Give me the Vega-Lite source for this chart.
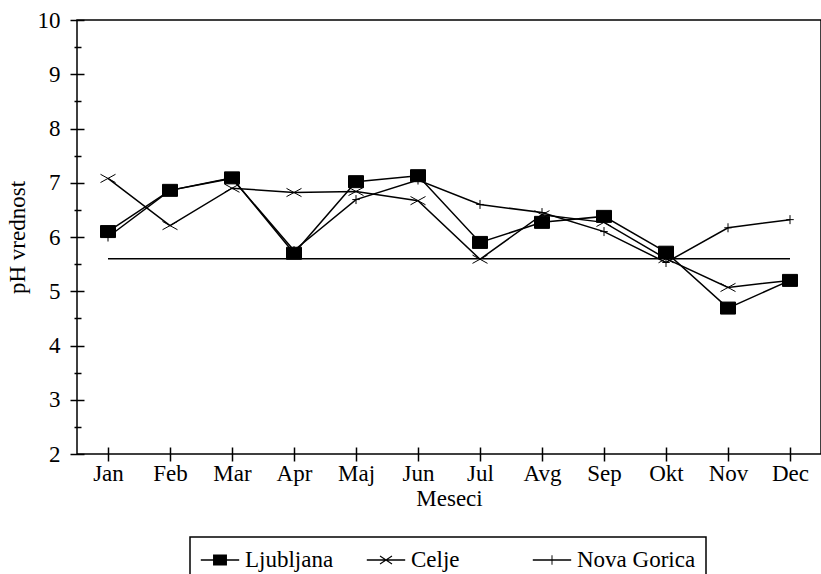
{
  "$schema": "https://vega.github.io/schema/vega-lite/v6.json",
  "width": 744,
  "height": 434,
  "autosize": {"type": "none"},
  "padding": {"left": 77, "top": 20, "right": 0, "bottom": 120},
  "background": "white",
  "config": {
    "view": {"stroke": "black", "strokeWidth": 1.5},
    "font": "Liberation Serif",
    "axis": {
      "labelFont": "Liberation Serif",
      "titleFont": "Liberation Serif",
      "labelFontSize": 23,
      "titleFontSize": 23,
      "labelColor": "black",
      "titleColor": "black",
      "titleFontWeight": "normal",
      "tickColor": "black",
      "tickWidth": 1.5,
      "grid": false,
      "domain": false
    },
    "legend": {"strokeWidth": 1.5}
  },
  "datasets": {
    "ph": [
      {"postaja": "Ljubljana", "mesec": "Jan", "ph": 6.1},
      {"postaja": "Ljubljana", "mesec": "Feb", "ph": 6.86},
      {"postaja": "Ljubljana", "mesec": "Mar", "ph": 7.09},
      {"postaja": "Ljubljana", "mesec": "Apr", "ph": 5.7},
      {"postaja": "Ljubljana", "mesec": "Maj", "ph": 7.02},
      {"postaja": "Ljubljana", "mesec": "Jun", "ph": 7.13},
      {"postaja": "Ljubljana", "mesec": "Jul", "ph": 5.9},
      {"postaja": "Ljubljana", "mesec": "Avg", "ph": 6.27},
      {"postaja": "Ljubljana", "mesec": "Sep", "ph": 6.38},
      {"postaja": "Ljubljana", "mesec": "Okt", "ph": 5.72},
      {"postaja": "Ljubljana", "mesec": "Nov", "ph": 4.69},
      {"postaja": "Ljubljana", "mesec": "Dec", "ph": 5.2},
      {"postaja": "Celje", "mesec": "Jan", "ph": 7.08},
      {"postaja": "Celje", "mesec": "Feb", "ph": 6.21},
      {"postaja": "Celje", "mesec": "Mar", "ph": 6.9},
      {"postaja": "Celje", "mesec": "Apr", "ph": 6.82},
      {"postaja": "Celje", "mesec": "Maj", "ph": 6.84},
      {"postaja": "Celje", "mesec": "Jun", "ph": 6.67},
      {"postaja": "Celje", "mesec": "Jul", "ph": 5.59},
      {"postaja": "Celje", "mesec": "Avg", "ph": 6.41},
      {"postaja": "Celje", "mesec": "Sep", "ph": 6.27},
      {"postaja": "Celje", "mesec": "Okt", "ph": 5.6},
      {"postaja": "Celje", "mesec": "Nov", "ph": 5.07},
      {"postaja": "Celje", "mesec": "Dec", "ph": 5.2},
      {"postaja": "Nova Gorica", "mesec": "Jan", "ph": 6.0},
      {"postaja": "Nova Gorica", "mesec": "Feb", "ph": 6.86},
      {"postaja": "Nova Gorica", "mesec": "Mar", "ph": 7.08},
      {"postaja": "Nova Gorica", "mesec": "Apr", "ph": 5.75},
      {"postaja": "Nova Gorica", "mesec": "Maj", "ph": 6.69},
      {"postaja": "Nova Gorica", "mesec": "Jun", "ph": 7.05},
      {"postaja": "Nova Gorica", "mesec": "Jul", "ph": 6.6},
      {"postaja": "Nova Gorica", "mesec": "Avg", "ph": 6.45},
      {"postaja": "Nova Gorica", "mesec": "Sep", "ph": 6.1},
      {"postaja": "Nova Gorica", "mesec": "Okt", "ph": 5.53},
      {"postaja": "Nova Gorica", "mesec": "Nov", "ph": 6.17},
      {"postaja": "Nova Gorica", "mesec": "Dec", "ph": 6.32}
    ],
    "ref": [
      {"mesec": "Jan", "ph": 5.6},
      {"mesec": "Dec", "ph": 5.6}
    ],
    "none": []
  },
  "layer": [
    {
      "data": {"name": "ref"},
      "mark": {"type": "line", "color": "black", "strokeWidth": 1.5},
      "encoding": {
        "x": {
          "field": "mesec", "type": "ordinal",
          "scale": {"type": "point", "padding": 0.5, "domain": ["Jan","Feb","Mar","Apr","Maj","Jun","Jul","Avg","Sep","Okt","Nov","Dec"]},
          "axis": {"orient": "bottom", "offset": -7, "tickSize": 14, "labelPadding": 1, "labelAngle": 0, "title": "Meseci", "titlePadding": 2}
        },
        "y": {
          "field": "ph", "type": "quantitative",
          "scale": {"domain": [2, 10], "nice": false, "zero": false},
          "axis": {"orient": "left", "values": [2,3,4,5,6,7,8,9,10], "format": "d", "offset": -7, "tickSize": 14, "labelPadding": 10, "title": "pH vrednost", "titlePadding": 8}
        },
        "order": {"value": null}
      }
    },
    {
      "data": {"name": "ph"},
      "mark": {"type": "line", "color": "black", "strokeWidth": 1.5},
      "encoding": {
        "x": {
          "field": "mesec", "type": "ordinal",
          "scale": {"type": "point", "padding": 0.5, "domain": ["Jan","Feb","Mar","Apr","Maj","Jun","Jul","Avg","Sep","Okt","Nov","Dec"]}
        },
        "y": {
          "field": "ph", "type": "quantitative",
          "scale": {"domain": [2, 10], "nice": false, "zero": false},
          "axis": {"orient": "left", "values": [2.5,3.5,4.5,5.5,6.5,7.5,8.5,9.5], "offset": -4, "tickSize": 7, "labels": false, "title": null}
        },
        "detail": {"field": "postaja", "type": "nominal"},
        "order": {"value": null}
      }
    },
    {
      "data": {"name": "ph"},
      "mark": {"type": "point", "filled": true, "fill": "black", "stroke": "black", "strokeWidth": 1, "opacity": 1, "size": 225},
      "encoding": {
        "x": {
          "field": "mesec", "type": "ordinal",
          "scale": {"type": "point", "padding": 0.5, "domain": ["Jan","Feb","Mar","Apr","Maj","Jun","Jul","Avg","Sep","Okt","Nov","Dec"]}
        },
        "y": {
          "field": "ph", "type": "quantitative",
          "scale": {"domain": [2, 10], "nice": false, "zero": false},
          "axis": null
        },
        "shape": {
          "field": "postaja", "type": "nominal",
          "scale": {
            "domain": ["Ljubljana", "Celje", "Nova Gorica"],
            "range": ["M-1,-0.8H1V0.8H-1Z", "M-1,-0.55L1,0.55M-1,0.55L1,-0.55", "M-0.5,0H0.5M0,-0.6V0.6"]
          },
          "legend": null
        }
      }
    },
    {
      "data": {"name": "none"},
      "mark": {"type": "point", "filled": true, "fill": "black", "strokeWidth": 0, "opacity": 1},
      "encoding": {
        "shape": {
          "field": "postaja", "type": "nominal",
          "scale": {
            "domain": ["Ljubljana", "Celje", "Nova Gorica"],
            "range": [
              "M-1.6,-0.06H1.6V0.06H-1.6Z M-0.58,-0.46H0.58V0.46H-0.58Z",
              "M-1.6,-0.06H1.6V0.06H-1.6Z M-0.475,-0.367L0.525,0.293L0.475,0.367L-0.525,-0.293Z M-0.525,0.293L0.475,-0.367L0.525,-0.293L-0.475,0.367Z",
              "M-1.6,-0.06H1.6V0.06H-1.6Z M-0.04,-0.4H0.04V0.4H-0.04Z"
            ]
          },
          "legend": {
            "title": null,
            "orient": "none",
            "legendX": 113,
            "legendY": 517,
            "direction": "horizontal",
            "columns": 3,
            "gridAlign": "all",
            "columnPadding": -1,
            "padding": 10,
            "strokeColor": "black",
            "fillColor": "white",
            "symbolSize": 576,
            "symbolOffset": 7,
            "symbolFillColor": "black",
            "symbolOpacity": 1,
            "labelOffset": 12,
            "labelFont": "Liberation Serif",
            "labelFontSize": 23,
            "labelColor": "black",
            "labelLimit": 300
          }
        }
      }
    }
  ],
  "resolve": {"axis": {"y": "independent"}, "scale": {"shape": "independent"}}
}
